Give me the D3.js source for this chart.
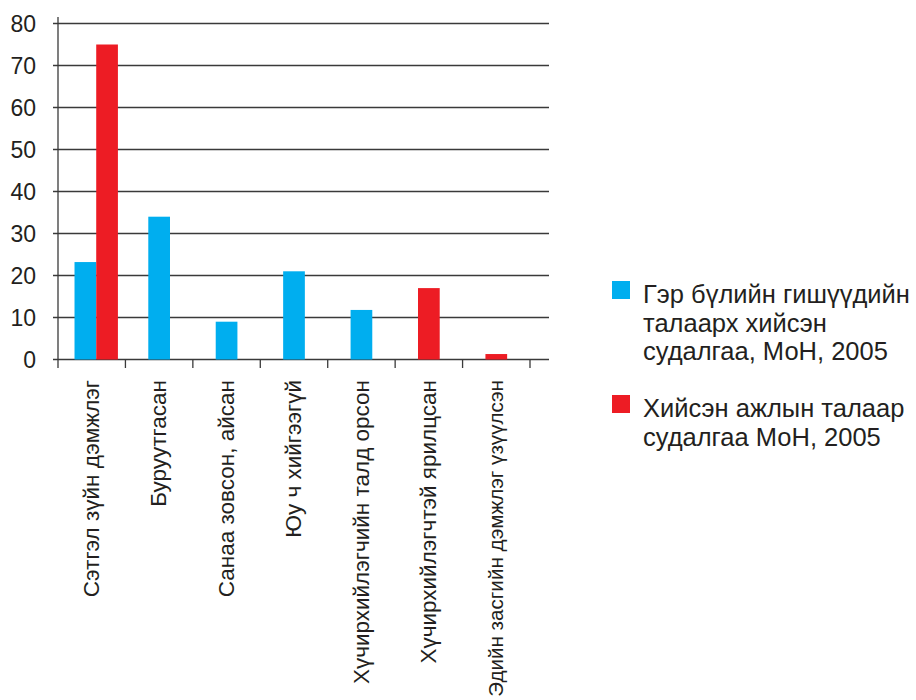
<!DOCTYPE html>
<html><head><meta charset="utf-8">
<script src="https://cdn.jsdelivr.net/npm/d3@7"></script>
<style>body{margin:0;background:#fff}svg{display:block}text{font-family:"Liberation Sans",Arial,sans-serif;fill:#231f20}</style>
</head><body>
<svg id="c" width="916" height="700"></svg>
<script>
const categories = ["Сэтгэл зүйн дэмжлэг","Буруутгасан","Санаа зовсон,  айсан","Юу ч хийгээгүй","Хүчирхийлэгчийн талд орсон","Хүчирхийлэгчтэй ярилцсан","Эдийн засгийн дэмжлэг үзүүлсэн"];
const seriesNames = [["Гэр бүлийн гишүүдийн","талаарх хийсэн","судалгаа, МоН, 2005"],["Хийсэн ажлын талаар","судалгаа МоН, 2005"]];
const seriesFamily = [23.2, 34, 9, 21, 11.8, null, null];
const seriesWork = [75, null, null, null, null, 17, 1.3];
const yTicks = [0,10,20,30,40,50,60,70,80];
const colors = ["#00aeef","#ed1c24"];

const svg = d3.select("#c");
const x = d3.scaleBand().domain(categories).range([58,530]).padding(0);
const y = d3.scaleLinear().domain([0,80]).range([359.5,23.5]);
const gridRight = 549;

svg.append("g").selectAll("line").data(yTicks).join("line")
  .attr("x1",53).attr("x2",gridRight).attr("y1",d=>y(d)).attr("y2",d=>y(d))
  .attr("stroke","#3a3a3a").attr("stroke-width",1.3);
svg.append("g").selectAll("text").data(yTicks).join("text")
  .attr("x",36).attr("y",d=>y(d)).attr("dy","0.36em").attr("text-anchor","end")
  .attr("font-size",23).text(d=>d);
svg.append("line").attr("x1",58).attr("x2",58).attr("y1",17).attr("y2",368).attr("stroke","#3a3a3a").attr("stroke-width",1.3);
const bounds = categories.map(c=>x(c)).concat([x.range()[1]]);
svg.append("g").selectAll("line").data(bounds.slice(1)).join("line")
  .attr("x1",d=>d).attr("x2",d=>d).attr("y1",359.5).attr("y2",368)
  .attr("stroke","#3a3a3a").attr("stroke-width",1.3);

const barW = 21.7;
const rows = categories.map((c,i)=>{
  const vals = [seriesFamily[i], seriesWork[i]].map((v,s)=>({v,s})).filter(o=>o.v!=null);
  const cx = x(c)+x.bandwidth()/2 + (vals.length>1?4.5:0);
  const start = cx - vals.length*barW/2;
  return vals.map((o,k)=>({x:start+k*barW, v:o.v, s:o.s}));
}).flat();
svg.append("g").selectAll("rect").data(rows).join("rect")
  .attr("x",d=>d.x).attr("width",barW).attr("y",d=>y(d.v)).attr("height",d=>y(0)-y(d.v))
  .attr("fill",d=>colors[d.s]);

const labelTop = 380;
svg.append("g").selectAll("text").data(categories).join("text")
  .attr("transform",d=>`translate(${x(d)+x.bandwidth()/2-1},${labelTop}) rotate(-90)`)
  .attr("dy","0.36em").attr("text-anchor","end").attr("font-size",22.5).text(d=>d)
  .each(function(){
    const len = this.getComputedTextLength();
    const room = 700 - labelTop - 3;
    if (len > room) d3.select(this).attr("font-size", 22.5*room/len);
  });

const legY = [281, 395];
seriesNames.forEach((lines,i)=>{
  svg.append("rect").attr("x",612).attr("y",legY[i]).attr("width",18).attr("height",18).attr("fill",colors[i]);
  lines.forEach((t,k)=>{
    svg.append("text").attr("x",643).attr("y",legY[i]+22+k*28.7).attr("font-size",25.5).text(t);
  });
});
</script>
</body></html>
